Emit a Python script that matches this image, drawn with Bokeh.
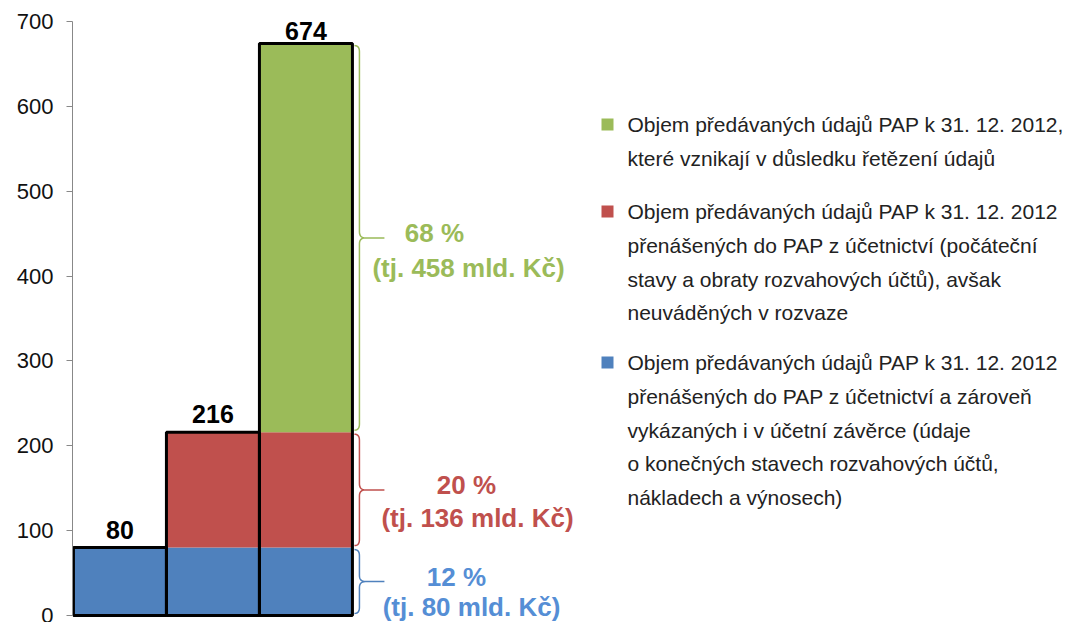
import numpy as np
from bokeh.plotting import figure
from bokeh.models import Range1d, FixedTicker, Label
from bokeh.core.properties import value
from bokeh.embed import file_html
from bokeh.resources import INLINE

# ---------------- data ----------------
bar_positions = [0.5, 1.5, 2.5]          # three unlabeled stacked columns
blue_vals = [80, 80, 80]
red_vals = [0, 136, 136]
green_vals = [0, 0, 458]
totals = [80, 216, 674]
y_ticks = [0, 100, 200, 300, 400, 500, 600, 700]

share_pct = ["12 %", "20 %", "68 %"]
share_amt = ["(tj. 80 mld. Kč)", "(tj. 136 mld. Kč)", "(tj. 458 mld. Kč)"]

legend_labels = [
    "Objem předávaných údajů PAP k 31. 12. 2012,\nkteré vznikají v důsledku řetězení údajů",
    "Objem předávaných údajů PAP k 31. 12. 2012\npřenášených do PAP z účetnictví (počáteční\nstavy a obraty rozvahových účtů), avšak\nneuváděných v rozvaze",
    "Objem předávaných údajů PAP k 31. 12. 2012\npřenášených do PAP z účetnictví a zároveň\nvykázaných i v účetní závěrce (údaje\no konečných stavech rozvahových účtů,\nnákladech a výnosech)",
]

BLUE, RED, GREEN = "#4F81BD", "#C0504D", "#9BBB59"
TXT_BLUE, TXT_RED, TXT_GREEN = "#558ED5", "#C0504D", "#9BBB59"

# ---------------- layout helpers (canvas px -> data) ----------------
W, H = 1070, 622
LEFT, TOP, BOTTOM = 72, 21, 7
X_PX = 93.0
X0 = -0.01
frame_w = W - LEFT
Y_PX = (H - TOP - BOTTOM) / 700.0
Y0 = -BOTTOM / Y_PX
ZERO_PX = H - BOTTOM


def sx(px):
    return X0 + (px - LEFT) / X_PX


def sy(py):
    return (ZERO_PX - py) / Y_PX


p = figure(width=W, height=H, output_backend="svg", toolbar_location=None,
           x_range=Range1d(X0, X0 + frame_w / X_PX), y_range=Range1d(Y0, 700),
           x_axis_location=None, min_border_left=LEFT, min_border_right=0,
           min_border_top=TOP, min_border_bottom=0)
p.outline_line_color = None
p.grid.visible = False
p.background_fill_color = "white"

ax = p.yaxis[0]
ax.ticker = FixedTicker(ticks=y_ticks)
ax.bounds = (0, 700)
ax.axis_line_color = "#888888"
ax.major_tick_line_color = "#888888"
ax.major_tick_out = 6
ax.major_tick_in = 0
ax.minor_tick_line_color = None
ax.major_label_text_font = "Liberation Sans"
ax.major_label_text_font_size = "22px"
ax.major_label_text_color = "#111111"
ax.major_label_standoff = 13

# ---------------- stacked bars ----------------
b1 = np.array(blue_vals, float)
b2 = b1 + np.array(red_vals, float)
b3 = b2 + np.array(green_vals, float)
p.vbar(x=bar_positions, width=1.0, bottom=0, top=b1, fill_color=BLUE, line_color=None)
p.vbar(x=bar_positions, width=1.0, bottom=b1, top=b2, fill_color=RED, line_color=None)
p.vbar(x=bar_positions, width=1.0, bottom=b2, top=b3, fill_color=GREEN, line_color=None)
p.vbar(x=bar_positions, width=1.0, bottom=0, top=totals, fill_color=None,
       line_color="black", line_width=3)

val_style = dict(text_font=value("Liberation Sans"), text_font_style="bold",
                 text_font_size="25px", text_color="black", text_align="center",
                 text_baseline="bottom")
p.text(x=bar_positions[:2], y=totals[:2], text=[str(t) for t in totals[:2]],
       y_offset=-9, **val_style)
p.text(x=bar_positions[2:], y=totals[2:], text=[str(t) for t in totals[2:]],
       y_offset=-4, **val_style)

# ---------------- braces ----------------
def qbez(p0, c, p1, n=8):
    t = np.linspace(0, 1, n)[:, None]
    return (1 - t) ** 2 * np.array(p0) + 2 * (1 - t) * t * np.array(c) + t ** 2 * np.array(p1)


right_px = LEFT + (bar_positions[-1] + 0.5 - X0) * X_PX
xl, xe, xt = right_px + 7, right_px + 2, right_px + 32
bottoms = [0, b1[-1], b2[-1]]
tops = [b1[-1], b2[-1], b3[-1]]
colors = [BLUE, RED, GREEN]
tcolors = [TXT_BLUE, TXT_RED, TXT_GREEN]
line1_cx = [456, 466, 434]
line2_cx = [471, 477, 468]
line2_dy = [25, 28, 30]
for y0, y1, col, tcol, t1, t2, c1, c2, d2 in zip(bottoms, tops, colors, tcolors,
                                                 share_pct, share_amt, line1_cx,
                                                 line2_cx, line2_dy):
    pb = ZERO_PX - y0 * Y_PX
    pt = ZERO_PX - y1 * Y_PX
    pm = (pb + pt) / 2
    r = 6
    pts = np.vstack([
        qbez((xe, pt + 2), (xl, pt + 2), (xl, pt + 2 + r)),
        qbez((xl, pm - r), (xl, pm), (xl + 6, pm)),
        [[xt, pm], [xl + 6, pm]],
        qbez((xl + 6, pm), (xl, pm), (xl, pm + r)),
        qbez((xl, pb - 2 - r), (xl, pb - 2), (xe, pb - 2)),
    ])
    p.line(x=[sx(v) for v in pts[:, 0]], y=[sy(v) for v in pts[:, 1]],
           line_color=col, line_width=1.5)
    for txt, cx, dy in ((t1, c1, -5), (t2, c2, d2)):
        p.add_layout(Label(x=sx(cx), y=sy(pm + dy), text=txt,
                           text_font="Liberation Sans", text_font_style="bold",
                           text_font_size="26px", text_color=tcol,
                           text_align="center", text_baseline="middle"))

# ---------------- legend (drawn) ----------------
leg_first = [124, 211, 362]
leg_colors = [GREEN, RED, BLUE]
LINE = 33.8
for lab, fy, col in zip(legend_labels, leg_first, leg_colors):
    p.scatter(x=[sx(607)], y=[sy(fy)], marker="square", size=12,
              fill_color=col, line_color=None)
    lines = lab.split("\n")
    p.text(x=[sx(627)] * len(lines), y=[sy(fy + k * LINE) for k in range(len(lines))],
           text=lines, text_font=value("Liberation Sans"), text_font_size="21px",
           text_color="#222222", text_align="left", text_baseline="middle")

open("out.html", "w").write(file_html(p, INLINE))
